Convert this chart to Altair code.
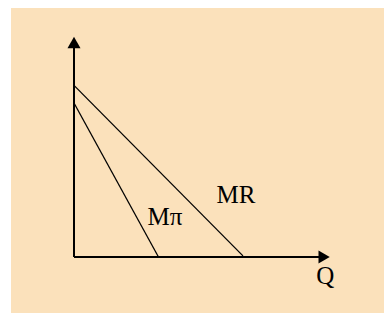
import altair as alt
import pandas as pd

# Curves (quantity, value)
mr_q = [0.0, 6.6]
mr_v = [7.8, 0.05]
mpi_q = [0.0, 3.3]
mpi_v = [7.0, 0.0]

# Axes (with arrow heads)
yaxis_q = [0.0, 0.0]
yaxis_v = [0.0, 9.6]
xaxis_q = [0.0, 9.6]
xaxis_v = [0.0, 0.0]
arrow_q = [0.0, 9.77]
arrow_v = [9.75, 0.0]
arrow_shape = ["triangle-up", "triangle-right"]

# Labels
label_text = ["MR", "Mπ", "Q"]
label_q = [6.33, 3.55, 9.82]
label_v = [2.45, 1.45, -1.23]

PEACH = "#FBE1BB"

xs = alt.Scale(domain=[0, 10], nice=False, zero=False)
ys = alt.Scale(domain=[0, 10], nice=False, zero=False)

bg = alt.Chart(pd.DataFrame({"a": [0]})).mark_rect(color=PEACH).encode(
    x=alt.value(-63), x2=alt.value(400), y=alt.value(-29), y2=alt.value(400)
)

def line(q, v, name, width):
    df = pd.DataFrame({"q": q, "v": v, "name": name})
    return alt.Chart(df).mark_line(color="black", strokeWidth=width).encode(
        x=alt.X("q:Q", scale=xs, axis=None),
        y=alt.Y("v:Q", scale=ys, axis=None),
    )

yax = line(yaxis_q, yaxis_v, "yaxis", 2)
xax = line(xaxis_q, xaxis_v, "xaxis", 2)
mr = line(mr_q, mr_v, "MR", 1.3)
mpi = line(mpi_q, mpi_v, "Mpi", 1.3)

arrows = alt.Chart(pd.DataFrame({"q": arrow_q, "v": arrow_v, "s": arrow_shape})).mark_point(
    filled=True, color="black", size=169, opacity=1
).encode(
    x=alt.X("q:Q", scale=xs, axis=None),
    y=alt.Y("v:Q", scale=ys, axis=None),
    shape=alt.Shape("s:N", scale=None, legend=None),
)

labels = alt.Chart(pd.DataFrame({"q": label_q, "v": label_v, "t": label_text})).mark_text(
    font="Liberation Serif", fontSize=25, color="black", baseline="alphabetic", align="center"
).encode(
    x=alt.X("q:Q", scale=xs, axis=None),
    y=alt.Y("v:Q", scale=ys, axis=None),
    text="t:N",
)

chart = alt.layer(bg, yax, xax, mr, mpi, arrows, labels).properties(
    width=256,
    height=220,
    autosize=alt.AutoSizeParams(type="none"),
    padding={"left": 66, "top": 29, "right": 54, "bottom": 56},
    background="white",
).configure_view(stroke=None)

chart.save("out.html", embed_options={"renderer": "svg", "actions": False})
